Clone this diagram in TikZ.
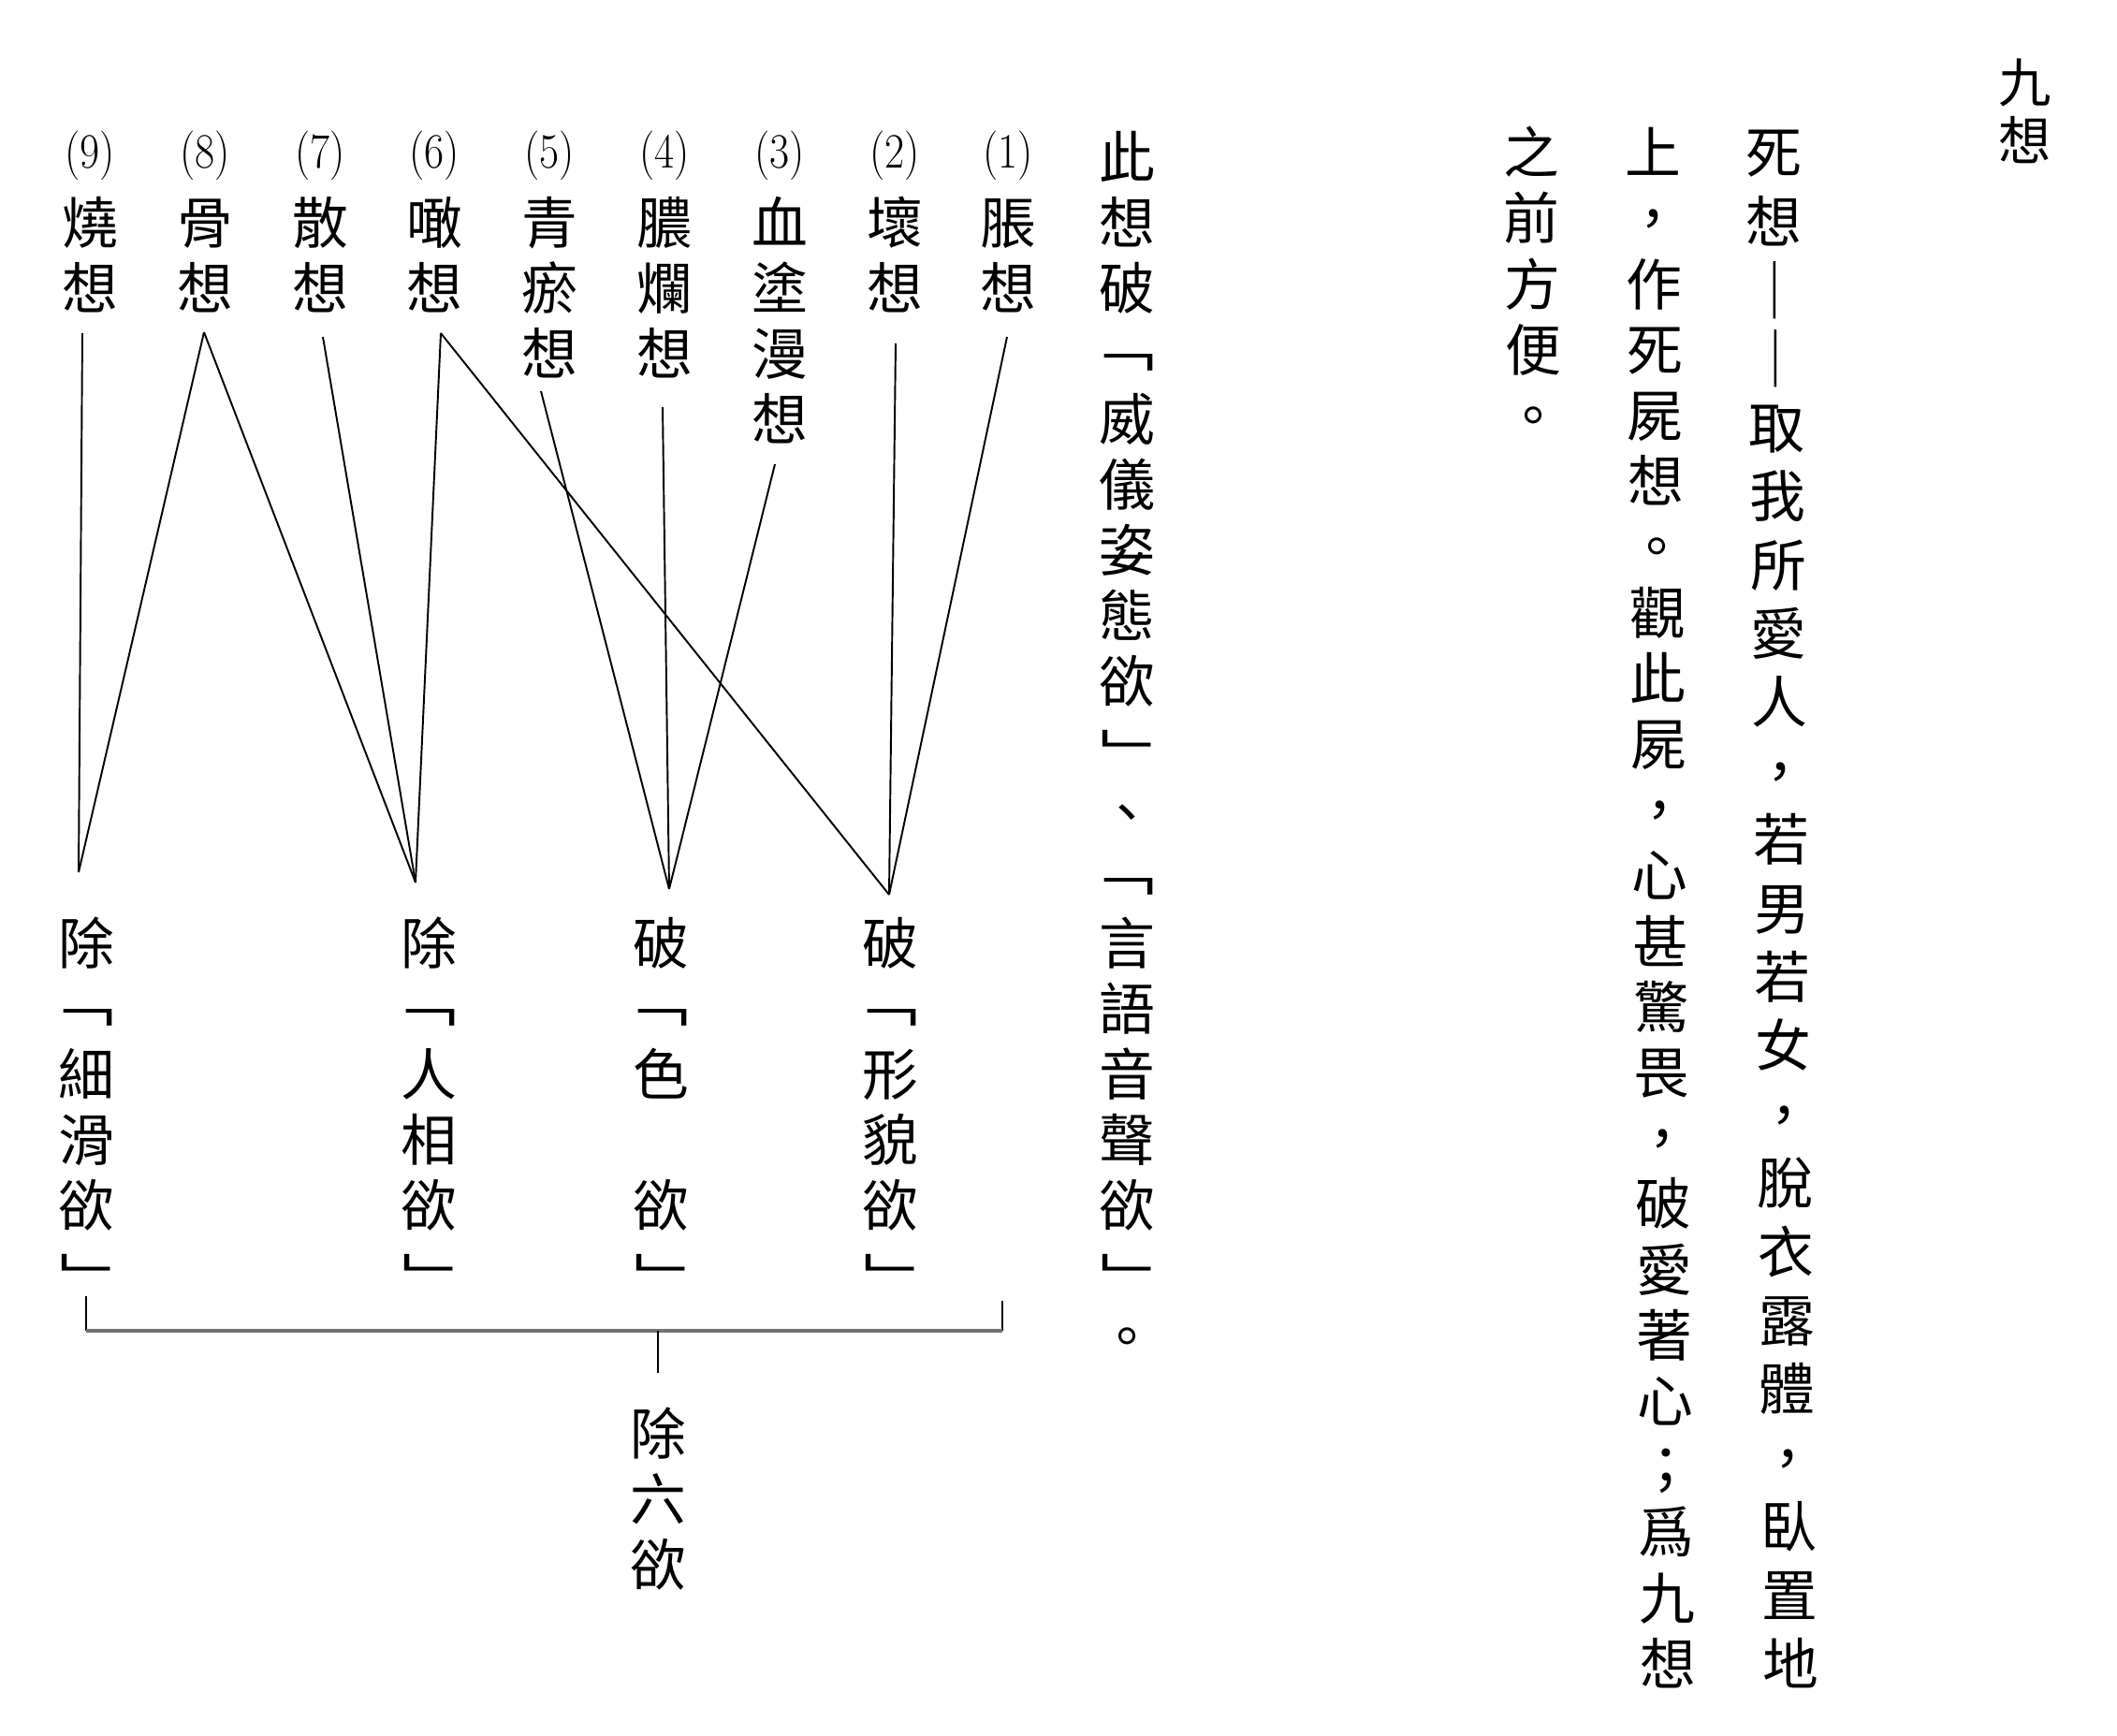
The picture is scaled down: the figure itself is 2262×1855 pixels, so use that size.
\documentclass[tikz,border=0pt]{standalone}
\usepackage{fontspec}
\newfontfamily\cjk{Noto Sans CJK TC}
\tikzset{
  cj/.style={font=\cjk\fontsize{17pt}{20pt}\selectfont, inner sep=0pt, text height=14.96pt, text depth=2.04pt},
  cjs/.style={font=\cjk\fontsize{16pt}{19pt}\selectfont, inner sep=0pt, text height=14.08pt, text depth=1.92pt},
  lbr/.style={cjs, xshift=-0.65mm, yshift=0.8mm, xscale=1.3},
  rbr/.style={cjs, xshift=0.9mm, yshift=-0.8mm, xscale=1.3},
  dashv/.style={cj, yscale=1.2},
  num/.style={font=\fontsize{15pt}{18pt}\selectfont, inner sep=0pt, xscale=0.87},
  link/.style={line width=0.55pt, black},
  brk/.style={line width=0.5pt, black},
  bar/.style={line width=1.1pt, black!55},
}
\newcommand\headcol[4]{%
  \node[num] (#1n) at (#2,166) {(#3)};
  \foreach \ch [count=\i] in {#4} {\node[cj] (#1c\i) at (#2,{168+70*\i}) {\ch};}
}
\newcommand\botcol[3]{%
  \foreach \ch/\k/\st in {#3} {\node[\st] (#1c\k) at (#2,{1008+70*(\k-1)}) {\ch};}
}
\begin{document}
\begin{tikzpicture}[x=0.01cm,y=-0.01cm]
\useasboundingbox (0,0) rectangle (2262,1855);

% ---- title at right ----
\node[cjs] (t1) at (2164,88) {九};
\node[cjs] (t2) at (2164,150) {想};

% ---- right text columns ----
\foreach \ch/\st [count=\i] in {死/cj,想/cj,︱/dashv,︱/dashv,取/cj,我/cj,所/cj,愛/cj,人/cj,，/cj,若/cj,男/cj,若/cj,女/cj,，/cj,脫/cj,衣/cj,露/cj,體/cj,，/cj,臥/cj,置/cj,地/cj}
  {\node[\st] (a\i) at ({1895+0.82*(\i-1)},{163+73.4*(\i-1)}) {\ch};}
\foreach \ch [count=\i] in {上,，,作,死,屍,想,。,觀,此,屍,，,心,甚,驚,畏,，,破,愛,著,心,；,爲,九,想}
  {\node[cj] (b\i) at ({1766+0.7*(\i-1)},{163+70.2*(\i-1)}) {\ch};}
\foreach \ch [count=\i] in {之,前,方,便,。}
  {\node[cj] (c\i) at ({1636+0.7*(\i-1)},{163+70.2*(\i-1)}) {\ch};}

% ---- diagram text column ----
\foreach \ch/\st [count=\i] in {此/cj,想/cj,破/cj,﹁/lbr,威/cj,儀/cj,姿/cj,態/cj,欲/cj,﹂/rbr,、/cj,﹁/lbr,言/cj,語/cj,音/cj,聲/cj,欲/cj,﹂/rbr,。/cj}
  {\node[\st] (d\i) at (1204,{168+70*(\i-1)}) {\ch};}

% ---- nine contemplations ----
\headcol{h9}{96}{9}{燒,想}
\headcol{h8}{219}{8}{骨,想}
\headcol{h7}{342}{7}{散,想}
\headcol{h6}{464}{6}{噉,想}
\headcol{h5}{587}{5}{青,瘀,想}
\headcol{h4}{710}{4}{膿,爛,想}
\headcol{h3}{833}{3}{血,塗,漫,想}
\headcol{h2}{956}{2}{壞,想}
\headcol{h1}{1077}{1}{脹,想}

% ---- desires ----
\botcol{g1}{92}{除/1/cj,﹁/2/lbr,細/3/cj,滑/4/cj,欲/5/cj,﹂/6/rbr}
\botcol{g2}{458}{除/1/cj,﹁/2/lbr,人/3/cj,相/4/cj,欲/5/cj,﹂/6/rbr}
\botcol{g3}{706}{破/1/cj,﹁/2/lbr,色/3/cj,欲/5/cj,﹂/6/rbr}
\botcol{g4}{951}{破/1/cj,﹁/2/lbr,形/3/cj,貌/4/cj,欲/5/cj,﹂/6/rbr}

\node[cj] (s1) at (703,1532) {除};
\node[cj] (s2) at (703,1602) {六};
\node[cj] (s3) at (703,1672) {欲};

% ---- connector end points ----
\coordinate (t9) at (88,356);
\coordinate (t8) at (218,355);
\coordinate (t7) at (345,360);
\coordinate (t6) at (471,356);
\coordinate (t5) at (578,418);
\coordinate (t4) at (708,435);
\coordinate (t3) at (828,496);
\coordinate (t2) at (957,367);
\coordinate (t1) at (1076,360);
\coordinate (j1) at (84,932);
\coordinate (j2) at (444,943);
\coordinate (j3) at (715,950);
\coordinate (j4) at (950,956);

\draw[link] (t9) -- (j1);
\draw[link] (t8) -- (j1);
\draw[link] (t8) -- (j2);
\draw[link] (t7) -- (j2);
\draw[link] (t6) -- (j2);
\draw[link] (t6) -- (j4);
\draw[link] (t5) -- (j3);
\draw[link] (t4) -- (j3);
\draw[link] (t3) -- (j3);
\draw[link] (t2) -- (j4);
\draw[link] (t1) -- (j4);

% ---- bracket ----
\coordinate (bl) at (92,1385);
\coordinate (blc) at (92,1422);
\coordinate (brc) at (1071,1422);
\coordinate (br) at (1071,1390);
\coordinate (bm) at (703,1422);
\coordinate (bs) at (703,1467);
\draw[brk] (bl) -- (blc);
\draw[brk] (br) -- (brc);
\draw[bar] (blc) -- (brc);
\draw[brk] (bm) -- (bs);
\end{tikzpicture}
\end{document}
